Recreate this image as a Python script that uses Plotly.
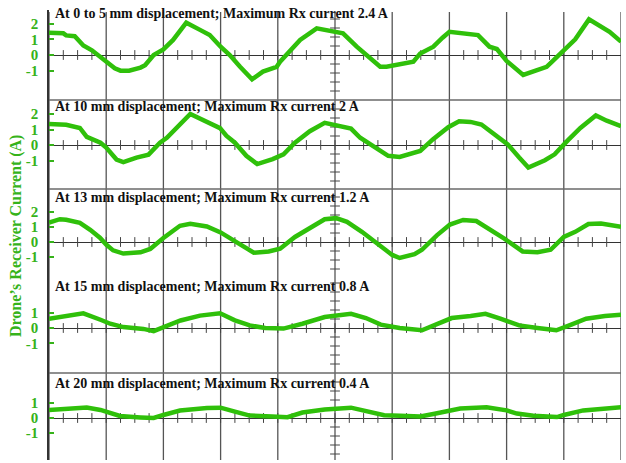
import numpy as np
import plotly.graph_objects as go

# Receiver current traces, time in scope divisions (0-10), current in A
t_0to5mm = [0, 0.25, 0.3, 0.45, 0.5, 0.6, 0.75, 0.85, 1.0, 1.15, 1.25, 1.4, 1.6, 1.68, 1.83, 2.0,
            2.17, 2.4, 2.64, 2.81, 3.0, 3.16, 3.34, 3.55, 3.74, 3.98, 4.04, 4.21, 4.39, 4.68, 4.97,
            5.14, 5.38, 5.61, 5.79, 5.9, 6.37, 6.49, 6.72, 6.88, 7.0, 7.5, 7.7, 7.83, 8.0, 8.29,
            8.7, 8.8, 9.0, 9.2, 9.44, 9.8, 10.0]
i_0to5mm = [1.42, 1.38, 1.25, 1.2, 1.0, 0.6, 0.3, 0.0, -0.45, -0.85, -1.0, -1.0, -0.8, -0.65, 0.0, 0.36,
            0.96, 2.06, 1.6, 1.27, 0.53, 0.0, -0.75, -1.55, -1.06, -0.75, -0.43, 0.21, 0.96, 1.7, 1.48,
            1.38, 0.53, -0.21, -0.75, -0.75, -0.43, 0.1, 0.53, 1.1, 1.48, 1.27, 0.53, 0.38, -0.38, -1.27,
            -0.75, -0.4, 0.32, 1.0, 2.27, 1.48, 0.85]

t_10mm = [0, 0.3, 0.54, 0.66, 0.9, 1.0, 1.18, 1.3, 1.53, 1.74, 1.94, 2.06, 2.47, 2.76, 2.99, 3.1,
          3.25, 3.45, 3.64, 3.91, 4.10, 4.30, 4.56, 4.82, 5.02, 5.28, 5.44, 5.67, 5.93, 6.13, 6.49,
          6.71, 6.98, 7.17, 7.37, 7.56, 7.82, 8.02, 8.22, 8.38, 8.67, 8.84, 9.07, 9.29, 9.56, 9.75, 10.0]
i_10mm = [1.36, 1.3, 1.1, 0.53, 0.15, -0.17, -0.94, -1.1, -0.81, -0.62, 0.15, 0.47, 2.0, 1.51, 1.09, 0.6,
          0.15, -0.7, -1.23, -0.91, -0.6, 0.15, 0.89, 1.43, 1.28, 1.06, 0.47, -0.06, -0.7, -0.77, -0.38,
          0.36, 1.15, 1.53, 1.49, 1.32, 0.57, 0.04, -0.81, -1.45, -0.98, -0.6, 0.3, 1.1, 1.91, 1.57, 1.21]

t_13mm = [0, 0.19, 0.3, 0.54, 0.72, 0.89, 1.0, 1.12, 1.3, 1.6, 1.77, 2.0, 2.29, 2.47, 2.76, 3.0,
          3.32, 3.58, 3.84, 4.04, 4.30, 4.56, 4.82, 5.02, 5.21, 5.47, 5.73, 6.0, 6.13, 6.39, 6.52,
          6.78, 7.01, 7.24, 7.47, 7.69, 7.96, 8.28, 8.54, 8.77, 9.0, 9.2, 9.43, 9.65, 10.0]
i_13mm = [1.28, 1.5, 1.46, 1.26, 0.8, 0.28, -0.17, -0.55, -0.76, -0.68, -0.46, 0.26, 1.07, 1.2, 1.02, 0.63,
          -0.11, -0.71, -0.62, -0.44, 0.33, 0.89, 1.5, 1.57, 1.33, 0.67, -0.11, -0.85, -1.05, -0.8, -0.51,
          0.44, 1.15, 1.45, 1.38, 0.89, 0.22, -0.62, -0.67, -0.51, 0.33, 0.67, 1.18, 1.22, 1.0]

t_15mm = [0, 0.3, 0.6, 0.9, 1.07, 1.3, 1.65, 1.83, 2.06, 2.3, 2.64, 2.99, 3.25, 3.51, 3.78, 4.10,
          4.43, 4.82, 5.28, 5.54, 5.80, 6.13, 6.52, 6.78, 7.04, 7.37, 7.63, 7.89, 8.22, 8.54, 8.87,
          9.13, 9.39, 9.72, 10.0]
i_15mm = [0.6, 0.81, 0.96, 0.54, 0.28, 0.06, -0.06, -0.21, 0.17, 0.49, 0.81, 0.96, 0.5, 0.17, 0.0, -0.04,
          0.28, 0.72, 0.93, 0.65, 0.22, 0.0, -0.15, 0.22, 0.65, 0.78, 0.93, 0.61, 0.17, 0.0, -0.15,
          0.22, 0.61, 0.78, 0.87]

t_20mm = [0, 0.3, 0.66, 0.9, 1.07, 1.24, 1.6, 1.83, 2.0, 2.29, 2.76, 3.0, 3.25, 3.51, 3.9, 4.17,
          4.43, 4.82, 5.28, 5.6, 5.86, 6.14, 6.49, 6.72, 7.0, 7.19, 7.65, 7.89, 8.0, 8.18, 8.47,
          8.88, 9.0, 9.34, 9.75, 10.0]
i_20mm = [0.53, 0.62, 0.69, 0.53, 0.36, 0.13, 0.04, 0.0, 0.2, 0.49, 0.65, 0.68, 0.42, 0.16, 0.1, 0.05,
          0.36, 0.56, 0.68, 0.44, 0.18, 0.15, 0.1, 0.26, 0.5, 0.62, 0.7, 0.55, 0.5, 0.29, 0.15,
          0.06, 0.2, 0.5, 0.64, 0.7]

panel_titles = [
    "At 0 to 5 mm displacement; Maximum Rx current 2.4 A",
    "At 10 mm displacement; Maximum Rx current 2 A",
    "At 13 mm displacement; Maximum Rx current 1.2 A",
    "At 15 mm displacement; Maximum Rx current 0.8 A",
    "At 20 mm displacement; Maximum Rx current 0.4 A",
]
tick_values = [[2, 1, 0, -1], [2, 1, 0, -1], [2, 1, 0, -1], [1, 0, -1], [1, 0, -1]]
y_title = "Drone’s Receiver Current (A)"

traces_t = [t_0to5mm, t_10mm, t_13mm, t_15mm, t_20mm]
traces_i = [i_0to5mm, i_10mm, i_13mm, i_15mm, i_20mm]

GREEN = "#2fc00a"
LABEL_GREEN = "#36b31a"
GRID = "#555555"
SERIF = "Liberation Serif"

W, H = 626, 463
ML, MR, MT, MB = 49, 5, 10, 3
plot_h = H - MT - MB
plot_w = W - ML - MR


def py(ypx):
    return (H - MB - ypx) / plot_h


def px(xpx):
    return (xpx - ML) / plot_w


# per panel: top px, bottom px, zero-line px, px per amp, title centre px
panels = [
    (10, 100, 55, 15.7, 13.5),
    (100, 189, 145, 15.5, 106.5),
    (189, 281, 242, 15.2, 197.5),
    (281, 373, 328, 15.3, 286.5),
    (373, 460, 418, 15.2, 383),
]

fig = go.Figure()
layout = {}
annotations = []
shapes = []

for k, (top, bot, zero, s, ty) in enumerate(panels):
    sfx = "" if k == 0 else str(k + 1)
    xname, yname = "x" + sfx, "y" + sfx
    y_lo, y_hi = -(bot - zero) / s, (zero - top) / s

    layout["xaxis" + sfx] = dict(domain=[0, 1], range=[0, 10], anchor=yname, visible=False,
                                 fixedrange=True)
    layout["yaxis" + sfx] = dict(
        domain=[py(bot), py(top)], range=[y_lo, y_hi], anchor=xname,
        showgrid=False, zeroline=True, zerolinecolor="#333", zerolinewidth=1,
        showline=True, linecolor="#333", linewidth=1.5,
        ticks="inside", ticklen=5, tickwidth=1.5, tickcolor=LABEL_GREEN,
        tickvals=tick_values[k], ticktext=[str(v) for v in tick_values[k]],
        ticklabelstandoff=6,
        tickfont=dict(family=SERIF, size=15, color=LABEL_GREEN, weight="bold"),
        fixedrange=True,
    )

    # minor ticks along the zero line (quarter divisions)
    mx = np.arange(0.25, 10.0, 0.25)
    fig.add_trace(go.Scatter(x=mx, y=np.zeros_like(mx), mode="markers", xaxis=xname, yaxis=yname,
                             marker=dict(symbol="line-ns", size=7, line=dict(width=1, color="#444")),
                             hoverinfo="skip", showlegend=False))
    # minor ticks along the centre vertical line
    step = 9.0 / s
    cy = [v for v in np.arange(-10, 11) * step if v != 0 and y_lo + 0.2 < v < y_hi - 0.1]
    fig.add_trace(go.Scatter(x=[5.0] * len(cy), y=cy, mode="markers", xaxis=xname, yaxis=yname,
                             marker=dict(symbol="line-ew", size=7, line=dict(width=1, color="#444")),
                             hoverinfo="skip", showlegend=False))

    # measured waveform
    fig.add_trace(go.Scatter(x=traces_t[k], y=traces_i[k], mode="lines", xaxis=xname, yaxis=yname,
                             line=dict(color=GREEN, width=4.5), showlegend=False))

    annotations.append(dict(text=panel_titles[k], xref="paper", yref="paper", x=px(53), y=py(ty),
                            xanchor="left", yanchor="middle", showarrow=False,
                            font=dict(family=SERIF, size=14, color="#111", weight="bold")))

# vertical divisions across all panels
for d in range(11):
    shapes.append(dict(type="line", xref="x", yref="paper", x0=d, x1=d, y0=0, y1=py(12),
                       line=dict(color=GRID, width=1.3), layer="below"))
# panel separators
for ysep in (100, 189, 373):
    shapes.append(dict(type="line", xref="paper", yref="paper", x0=0, x1=1, y0=py(ysep), y1=py(ysep),
                       line=dict(color="#6a6a6a", width=1.5), layer="below"))

annotations.append(dict(text=y_title, xref="paper", yref="paper", x=px(16), y=py(236),
                        xanchor="center", yanchor="middle", textangle=-90, showarrow=False,
                        font=dict(family=SERIF, size=16, color=LABEL_GREEN, weight="bold")))

fig.update_layout(
    width=W, height=H, margin=dict(l=ML, r=MR, t=MT, b=MB),
    paper_bgcolor="white", plot_bgcolor="white",
    annotations=annotations, shapes=shapes, showlegend=False,
    **layout,
)

fig.write_html("out.html")
